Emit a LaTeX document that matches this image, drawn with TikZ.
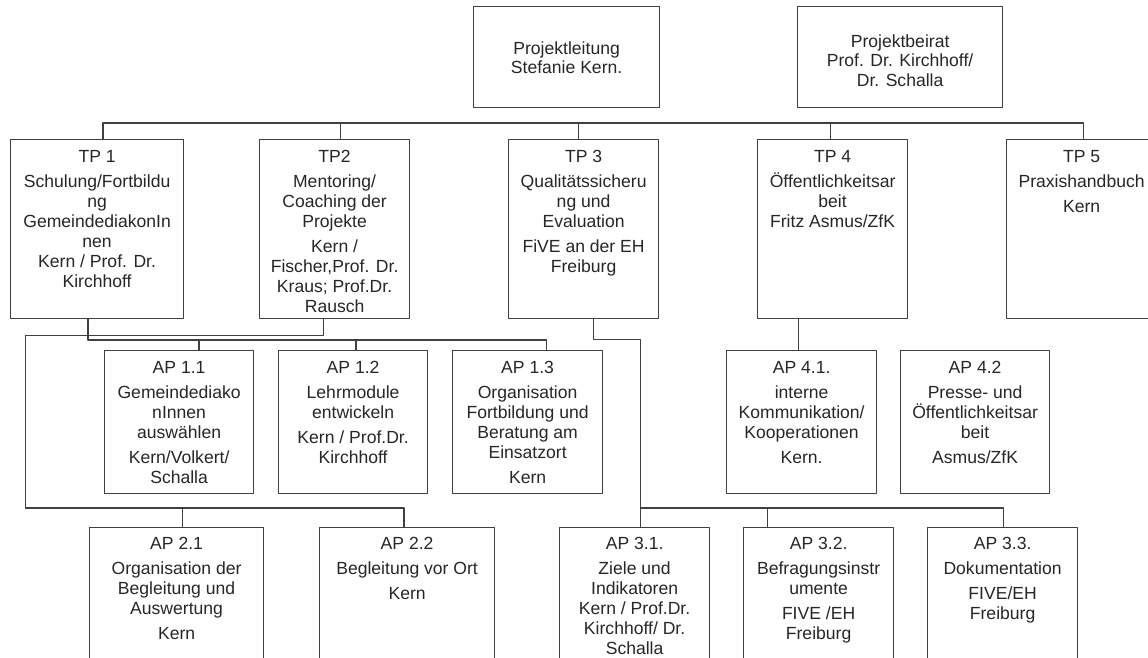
\documentclass[tikz,border=0pt]{standalone}
\usepackage{fontspec}
\setmainfont{Liberation Sans}
\usetikzlibrary{calc}
\newcommand{\boxtext}[4][13.3pt]{\begin{minipage}[c][#3][t]{#2}\centering\rule{0pt}{#1}#4\end{minipage}}
\begin{document}
\begin{tikzpicture}[x=0.02cm, y=-0.02cm, line join=round, font=\fontsize{10}{11.34}\selectfont,
  box/.style={draw=black!75, line width=0.7pt, inner sep=0pt, anchor=north west, text=black!85},
  link/.style={draw=black!75, line width=0.7pt}]
 \useasboundingbox (0,0) rectangle (1148,658);
 \clip (0,0) rectangle (1148,658);
 % leitung und beirat
 \node[box] (lead) at (473,6) {\boxtext[27pt]{3.72cm}{2.02cm}{Projektleitung\\Stefanie Kern.}};
 \node[box] (beirat) at (797,6) {\boxtext[23pt]{4.1cm}{2.02cm}{Projektbeirat\\Prof. Dr. Kirchhoff/\\Dr. Schalla}};
 % teilprojekte
 \node[box] (tp1) at (10,139) {\boxtext{3.46cm}{3.58cm}{TP 1\\[2.8pt]Schulung/Fortbildu\\ng\\GemeindediakonIn\\nen\\Kern / Prof. Dr.\\Kirchhoff}};
 \node[box] (tp2) at (259,139) {\boxtext{3cm}{3.58cm}{TP2\\[2.8pt]Mentoring/\\Coaching der\\Projekte\\[2.8pt]Kern /\\Fischer,Prof. Dr.\\Kraus; Prof.Dr.\\Rausch}};
 \node[box] (tp3) at (508,139) {\boxtext{3cm}{3.58cm}{TP 3\\[2.8pt]Qualitätssicheru\\ng und\\Evaluation\\[2.8pt]FiVE an der EH\\Freiburg}};
 \node[box] (tp4) at (757,139) {\boxtext{3cm}{3.58cm}{TP 4\\[2.8pt]Öffentlichkeitsar\\beit\\Fritz Asmus/ZfK}};
 \node[box] (tp5) at (1006,139) {\boxtext{3cm}{3.58cm}{TP 5\\[2.8pt]Praxishandbuch\\[2.8pt]Kern}};
 % arbeitspakete, obere reihe
 \node[box] (ap11) at (104,350) {\boxtext{2.98cm}{2.86cm}{AP 1.1\\[2.8pt]Gemeindediako\\nInnen\\auswählen\\[2.8pt]Kern/Volkert/\\Schalla}};
 \node[box] (ap12) at (278,350) {\boxtext{2.98cm}{2.86cm}{AP 1.2\\[2.8pt]Lehrmodule\\entwickeln\\[2.8pt]Kern / Prof.Dr.\\Kirchhoff}};
 \node[box] (ap13) at (452,350) {\boxtext{3cm}{2.86cm}{AP 1.3\\[2.8pt]Organisation\\Fortbildung und\\Beratung am\\Einsatzort\\[2.8pt]Kern}};
 \node[box] (ap41) at (726,350) {\boxtext{3cm}{2.86cm}{AP 4.1.\\[2.8pt]interne\\Kommunikation/\\Kooperationen\\[2.8pt]Kern.}};
 \node[box] (ap42) at (900,350) {\boxtext{2.98cm}{2.86cm}{AP 4.2\\[2.8pt]Presse- und\\Öffentlichkeitsar\\beit\\[2.8pt]Asmus/ZfK}};
 % arbeitspakete, untere reihe
 \node[box] (ap21) at (89,527) {\boxtext[12.6pt]{3.48cm}{2.9cm}{AP 2.1\\[2.8pt]Organisation der\\Begleitung und\\Auswertung\\[2.8pt]Kern}};
 \node[box] (ap22) at (319,527) {\boxtext[12.6pt]{3.5cm}{2.9cm}{AP 2.2\\[2.8pt]Begleitung vor Ort\\[2.8pt]Kern}};
 \node[box] (ap31) at (559,527) {\boxtext[12.6pt]{3cm}{2.9cm}{AP 3.1.\\[2.8pt]Ziele und\\Indikatoren\\Kern / Prof.Dr.\\Kirchhoff/ Dr.\\Schalla}};
 \node[box] (ap32) at (743,527) {\boxtext[12.6pt]{3cm}{2.9cm}{AP 3.2.\\[2.8pt]Befragungsinstr\\umente\\[2.8pt]FIVE /EH\\Freiburg}};
 \node[box] (ap33) at (927,527) {\boxtext[12.6pt]{3cm}{2.9cm}{AP 3.3.\\[2.8pt]Dokumentation\\[2.8pt]FIVE/EH\\Freiburg}};
 % verbindungen
 \draw[link] ($(tp1.north)+(6,0)$) |- ($(tp5.north)+(2,-16)$) -- ($(tp5.north)+(2,0)$);
 \foreach \n/\dx in {tp2/6, tp3/-5, tp4/-2}
 \draw[link] ($(\n.north)+(\dx,0)$) -- ++(0,-16);
 \draw[link] ($(tp1.south)+(-9,0)$) |- ($(ap13.north)+(19,-10)$) -- ($(ap13.north)+(19,0)$);
 \foreach \n/\dx in {ap11/20, ap12/3}
 \draw[link] ($(\n.north)+(\dx,0)$) -- ++(0,-10);
 \draw[link] ($(tp2.south)+(-11,0)$) -- ++(0,16) -| ($(ap21.north)+(-151,-19)$) -| ($(ap22.north)+(-3,0)$);
 \draw[link] ($(ap21.north)+(6,0)$) -- ++(0,-19);
 \draw[link] ($(tp3.south)+(10,0)$) -- ++(0,20) -| ($(ap31.north)+(6,0)$);
 \draw[link] ($(ap31.north)+(6,-19)$) -| ($(ap33.north)+(1,0)$);
 \draw[link] ($(ap32.north)+(-51,0)$) -- ++(0,-19);
 \draw[link] ($(tp4.south)+(-34,0)$) -- ($(ap41.north)+(-3,0)$);
\end{tikzpicture}
\end{document}
